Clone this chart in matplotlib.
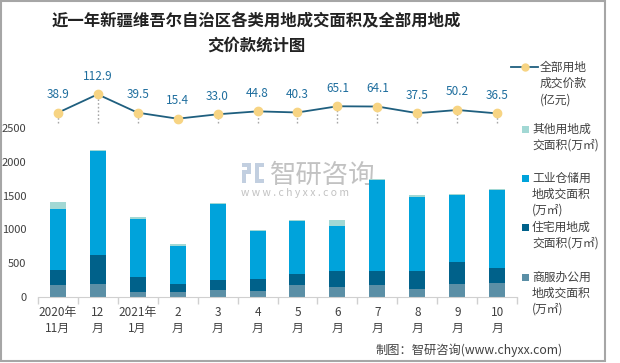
import matplotlib
matplotlib.use("Agg")
import matplotlib.pyplot as plt
from matplotlib.patches import Rectangle
from matplotlib.lines import Line2D

plt.rcParams['font.family'] = ['Noto Sans CJK SC', 'DejaVu Sans']

months = ["2020年\n11月", "12\n月", "2021年\n1月", "2\n月", "3\n月", "4\n月",
          "5\n月", "6\n月", "7\n月", "8\n月", "9\n月", "10\n月"]
commercial = [175, 190, 70, 70, 100, 85, 175, 145, 175, 115, 190, 205]
residential = [225, 435, 225, 120, 150, 180, 165, 240, 210, 270, 330, 225]
industrial = [900, 1540, 855, 570, 1125, 705, 780, 660, 1350, 1095, 990, 1155]
other = [105, 10, 30, 15, 15, 15, 15, 90, 15, 30, 15, 15]
price = [38.9, 112.9, 39.5, 15.4, 33.0, 44.8, 40.3, 65.1, 64.1, 37.5, 50.2, 36.5]

c_com = '#5B8FA6'
c_res = '#00618A'
c_ind = '#00A3DB'
c_oth = '#A2D8D4'
c_line = '#1F5F7F'
c_mark = '#F7D483'
c_lab = '#1F6E9E'
c_txt = '#404040'

W, H = 620, 363
fig = plt.figure(figsize=(6.2, 3.63), dpi=100)

def fx(px):
    return px / W

def fy(py):
    return 1 - py / H

ax_l, ax_r, ax_b, ax_t = 37.7, 517.3, 296.7, 85
ax = fig.add_axes([fx(ax_l), fy(ax_b), fx(ax_r) - fx(ax_l), fy(ax_t) - fy(ax_b)])
ax.patch.set_visible(False)

x = list(range(len(months)))
bw = 0.4
ax.bar(x, commercial, bw, color=c_com, zorder=2)
b2 = [a for a in commercial]
ax.bar(x, residential, bw, bottom=b2, color=c_res, zorder=2)
b3 = [a + b for a, b in zip(commercial, residential)]
ax.bar(x, industrial, bw, bottom=b3, color=c_ind, zorder=2)
b4 = [a + b for a, b in zip(b3, industrial)]
ax.bar(x, other, bw, bottom=b4, color=c_oth, zorder=2)

ax.set_xlim(-0.5, 11.5)
ax.set_ylim(0, 3143)
ax.set_yticks([0, 500, 1000, 1500, 2000, 2500])
ax.tick_params(axis='y', length=0, pad=8, labelsize=8, labelcolor=c_txt)
ax.set_xticks(x)
ax.set_xticklabels(months, fontsize=8.5, color=c_txt, linespacing=1.3)
ax.tick_params(axis='x', which='major', length=0, pad=7)
ax.set_xticks([i - 0.5 for i in range(13)], minor=True)
ax.tick_params(axis='x', which='minor', length=5, color='#D0D0D0', width=1)
for s in ['top', 'right', 'left']:
    ax.spines[s].set_visible(False)
ax.spines['bottom'].set_color('#D0D0D0')

ax2 = ax.twinx()
ax2.set_ylim(-696.6, 150.2)
ax2.axis('off')
ax2.vlines(x, 0, price, colors='#A6A6A6', linestyles=(0, (1.2, 1.5)), linewidth=1, zorder=2)
ax2.plot(x, price, color=c_line, linewidth=1.3, marker='o', markersize=6,
         markerfacecolor=c_mark, markeredgecolor=c_mark, zorder=3)
for xi, v in zip(x, price):
    ax2.annotate(f"{v:.1f}", (xi, v), xytext=(0, 13), textcoords='offset points',
                 ha='center', va='center', fontsize=8.5, color=c_lab)

# Title
fig.text(fx(256), fy(21), "近一年新疆维吾尔自治区各类用地成交面积及全部用地成",
         ha='center', va='center', fontsize=11.8, fontweight='bold', color='#222222')
fig.text(fx(256), fy(46), "交价款统计图",
         ha='center', va='center', fontsize=11.8, fontweight='bold', color='#222222')

# Legend (manual)
fs_leg = 8.5
fig.add_artist(Line2D([fx(511), fx(538)], [fy(67), fy(67)], color=c_line, linewidth=1.3))
fig.add_artist(Line2D([fx(524.5)], [fy(67)], marker='o', markersize=5,
                      markerfacecolor=c_mark, markeredgecolor=c_mark, linestyle='none'))
for i, t in enumerate(["全部用地", "成交价款", "(亿元)"]):
    fig.text(fx(540), fy(67 + 16.5 * i), t, ha='left', va='center', fontsize=fs_leg, color=c_txt)

entries = [
    (c_oth, 129, ["其他用地成", "交面积(万㎡)"]),
    (c_ind, 178, ["工业仓储用", "地成交面积", "(万㎡)"]),
    (c_res, 227, ["住宅用地成", "交面积(万㎡)"]),
    (c_com, 277, ["商服办公用", "地成交面积", "(万㎡)"]),
]
for col, y0, lines in entries:
    fig.add_artist(Rectangle((fx(521.5), fy(y0 + 3.5)), fx(7), 7 / H,
                             facecolor=col, edgecolor='none'))
    for i, t in enumerate(lines):
        fig.text(fx(532), fy(y0 + 16.2 * i), t, ha='left', va='center',
                 fontsize=fs_leg, color=c_txt)

# Watermark
wm = '#A8A8A8'
fig.text(fx(270), fy(175), "智研咨询", ha='left', va='center', fontsize=19,
         color=wm, alpha=0.7, zorder=-1)
fig.text(fx(241), fy(193), "w w w . c h y x x . c o m", ha='left', va='center',
         fontsize=7.5, color=wm, alpha=0.7, zorder=-1)
logo = '#C2CFE0'
for (lx, ly, lw, lh) in [(242, 163, 9, 4), (247, 163, 4, 10), (242, 170, 9, 4),
                         (242, 170, 4, 13), (255, 163, 9, 4), (255, 163, 4, 20),
                         (255, 179, 9, 4)]:
    fig.add_artist(Rectangle((fx(lx), fy(ly + lh)), fx(lw), lh / H,
                             facecolor=logo, edgecolor='none', zorder=-1))

# Source
fig.text(fx(376), fy(350), "制图：智研咨询(www.chyxx.com)", ha='left', va='center',
         fontsize=8.8, color=c_txt)

# Frame
fig.add_artist(Rectangle((fx(0.8), fy(361)), fx(604.5), 360 / H, fill=False,
                         edgecolor='#A6A6A6', linewidth=1.5))

fig.savefig("out.png", dpi=100)
